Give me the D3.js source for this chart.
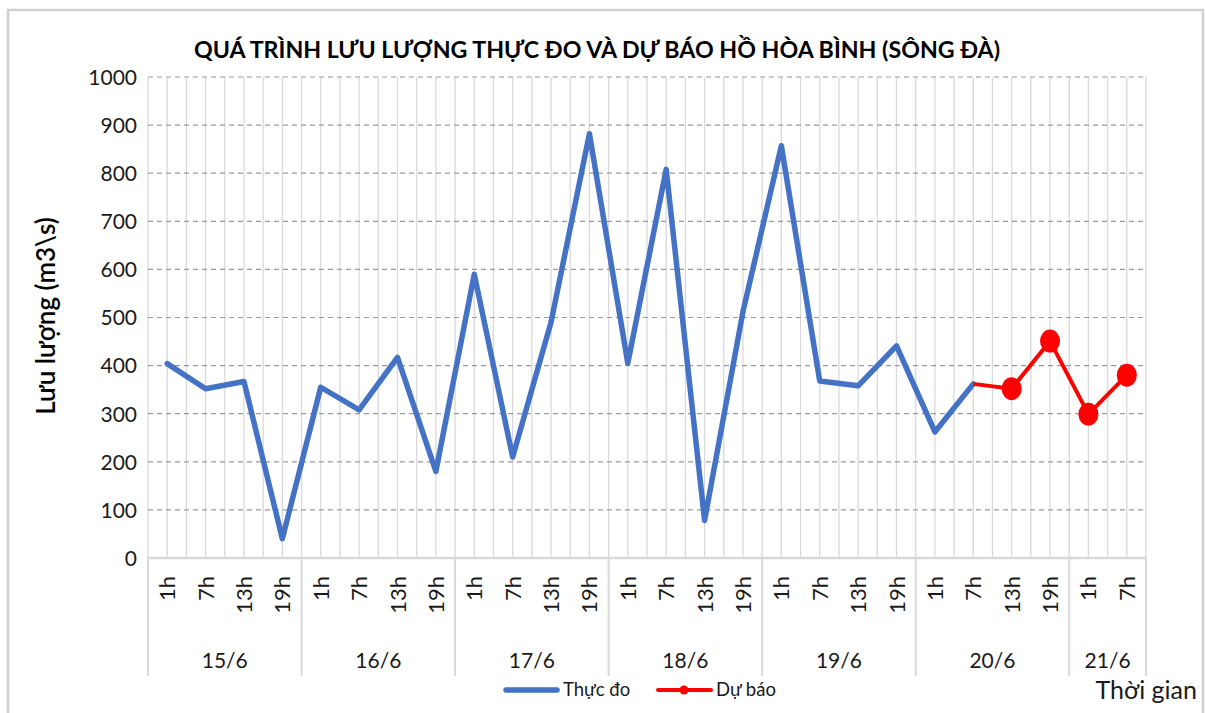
<!DOCTYPE html>
<html><head><meta charset="utf-8">
<script src="https://cdn.jsdelivr.net/npm/d3@7"></script>
<style>body{margin:0;background:#fff}svg{display:block}</style>
</head><body>
<script>
const days = ["15/6","16/6","17/6","18/6","19/6","20/6","21/6"];
const hoursPerDay = [["1h","7h","13h","19h"],["1h","7h","13h","19h"],["1h","7h","13h","19h"],["1h","7h","13h","19h"],["1h","7h","13h","19h"],["1h","7h","13h","19h"],["1h","7h"]];
const observed = [404,352,367,40, 355,308,417,180, 590,210,490,882, 405,808,78,512, 857,368,358,441, 262,362];
const forecastStart = 21;
const forecast = [362,352,451,299,380];
const yTicks = [0,100,200,300,400,500,600,700,800,900,1000];

const W=1205,H=713;
const svg=d3.select("body").append("svg").attr("width",W).attr("height",H);
const font="Lato, 'Liberation Sans', sans-serif";

const cats=[];
hoursPerDay.forEach((hs,d)=>hs.forEach(h=>cats.push({day:d,hour:h})));
const idx=cats.map((c,i)=>i);

const x=d3.scaleBand().domain(idx).range([148,1146]).padding(0);
const y=d3.scaleLinear().domain([0,1000]).range([558,77]);
const bw=x.bandwidth();
const cx=i=>x(i)+bw/2;

// frame
svg.append("rect").attr("x",8).attr("y",10).attr("width",1195).attr("height",720)
 .attr("fill","#fff").attr("stroke","#d0d0d0").attr("stroke-width",2.5);

// title
svg.append("text").attr("x",597).attr("y",58).attr("text-anchor","middle")
 .attr("font-family",font).attr("font-weight","bold").attr("font-size",23.2).attr("fill","#000")
 .text("QUÁ TRÌNH LƯU LƯỢNG THỰC ĐO VÀ DỰ BÁO HỒ HÒA BÌNH (SÔNG ĐÀ)");

// vertical gridlines
const vx=[];
idx.forEach(i=>{vx.push(x(i));vx.push(cx(i));});
vx.push(x(idx[idx.length-1])+bw);
svg.append("g").selectAll("line").data(vx).join("line")
 .attr("x1",d=>d).attr("x2",d=>d).attr("y1",y(1000)).attr("y2",y(0))
 .attr("stroke","#d9d9d9").attr("stroke-width",1.3);

// horizontal dashed gridlines
svg.append("g").selectAll("line").data(yTicks.filter(t=>t>0)).join("line")
 .attr("x1",148).attr("x2",1146).attr("y1",d=>y(d)).attr("y2",d=>y(d))
 .attr("stroke","#9a9a9a").attr("stroke-width",1.2).attr("stroke-dasharray","5,4");

// y axis
const yAxis=d3.axisLeft(y).tickValues(yTicks).tickFormat(d3.format("d")).tickSize(0).tickPadding(11);
const gy=svg.append("g").attr("transform","translate(148,0)").call(yAxis);
gy.select(".domain").remove();
gy.selectAll("text").attr("font-family",font).attr("font-size",21).attr("fill","#1a1a1a").attr("dy","0.35em");

// y title
svg.append("text").attr("transform","translate(55,316) rotate(-90)").attr("text-anchor","middle")
 .attr("font-family",font).attr("font-weight","600").attr("font-size",26).attr("fill","#000")
 .text("Lưu lượng (m3\\s)");

// x axis line
svg.append("line").attr("x1",148).attr("x2",1146).attr("y1",558).attr("y2",558)
 .attr("stroke","#d9d9d9").attr("stroke-width",2.5);

// group separators
let start=0;const seps=[x(0)];const groupCenters=[];
hoursPerDay.forEach((hs,d)=>{
  const s=x(start), e=x(start+hs.length-1)+bw;
  seps.push(e); groupCenters.push({label:days[d],cx:(s+e)/2});
  start+=hs.length;
});
svg.append("g").selectAll("line").data(seps).join("line")
 .attr("x1",d=>d).attr("x2",d=>d).attr("y1",558).attr("y2",676)
 .attr("stroke","#d9d9d9").attr("stroke-width",2);

// hour labels
svg.append("g").selectAll("text").data(cats).join("text")
 .attr("transform",(d,i)=>`translate(${cx(i)+8},576) rotate(-90)`)
 .attr("text-anchor","end").attr("font-family",font).attr("font-size",22).attr("fill","#1a1a1a")
 .text(d=>d.hour);

// day labels
svg.append("g").selectAll("text").data(groupCenters).join("text")
 .attr("x",d=>d.cx).attr("y",668).attr("text-anchor","middle")
 .attr("font-family",font).attr("font-size",21).attr("fill","#1a1a1a").text(d=>d.label);

// observed line
const line=d3.line().x(d=>cx(d.i)).y(d=>y(d.v));
svg.append("path").datum(observed.map((v,i)=>({i,v})))
 .attr("d",line).attr("fill","none").attr("stroke","#4472C4").attr("stroke-width",5.5)
 .attr("stroke-linejoin","round").attr("stroke-linecap","round");

// forecast
const fdata=forecast.map((v,k)=>({i:forecastStart+k,v}));
svg.append("path").datum(fdata).attr("d",line).attr("fill","none")
 .attr("stroke","#FF0000").attr("stroke-width",4).attr("stroke-linejoin","round");
svg.append("g").selectAll("ellipse").data(fdata.slice(1)).join("ellipse")
 .attr("cx",d=>cx(d.i)).attr("cy",d=>y(d.v)).attr("rx",10).attr("ry",11.5).attr("fill","#FF0000");

// legend
svg.append("line").attr("x1",506).attr("x2",557).attr("y1",690).attr("y2",690)
 .attr("stroke","#4472C4").attr("stroke-width",5.5).attr("stroke-linecap","round");
svg.append("text").attr("x",563).attr("y",696).attr("font-family",font).attr("font-size",18.5).attr("fill","#1a1a1a").text("Thực đo");
svg.append("line").attr("x1",658).attr("x2",711).attr("y1",690).attr("y2",690)
 .attr("stroke","#FF0000").attr("stroke-width",4).attr("stroke-linecap","round");
svg.append("circle").attr("cx",684).attr("cy",690).attr("r",4.5).attr("fill","#FF0000");
svg.append("text").attr("x",716).attr("y",696).attr("font-family",font).attr("font-size",18.5).attr("fill","#1a1a1a").text("Dự báo");

// x axis title
svg.append("text").attr("x",1197).attr("y",699).attr("text-anchor","end")
 .attr("font-family",font).attr("font-size",25).attr("fill","#1a1a1a").text("Thời gian");
</script>
</body></html>
